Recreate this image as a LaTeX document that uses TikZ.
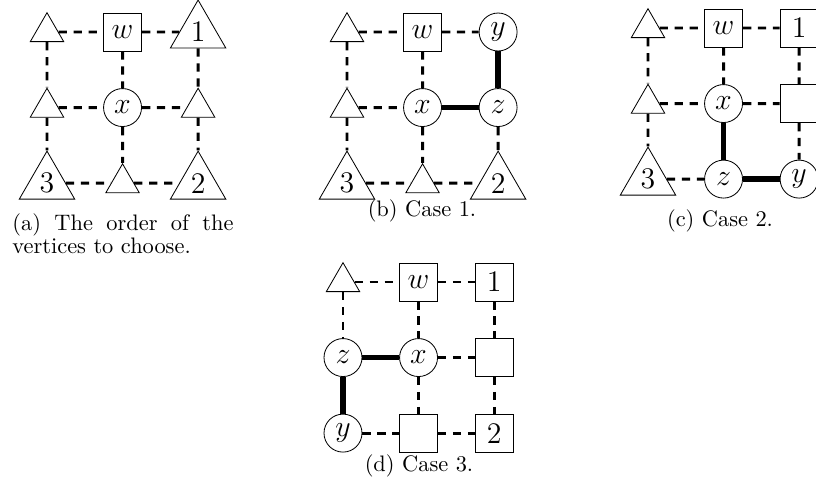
\documentclass[tikz,border=0pt]{standalone}
\usepackage{tikz}
\usetikzlibrary{positioning,shapes.geometric}
\newcommand{\vfont}{\Large}

\begin{document}
\begin{tikzpicture}[
  x=0.4818pt, y=-0.4818pt,
  node distance=36.4pt, on grid,
  tri/.style={draw, regular polygon, regular polygon sides=3,
    minimum size=18.6pt, inner sep=0pt},
  bigtri/.style={tri, minimum size=30.8pt, font=\vfont},
  sq/.style={draw, minimum size=18.3pt, inner sep=0pt, font=\vfont},
  vtx/.style={draw, circle, minimum size=18.3pt, inner sep=0pt, font=\vfont},
  dsh/.style={line width=1.4pt, dash pattern=on 4pt off 3.2pt},
  sel/.style={line width=2.6pt},
  captext/.style={font=\fontsize{10.8}{10.1}\selectfont, inner sep=0pt}
]
\useasboundingbox (0,0) rectangle (816,492);

% (a) the order of the vertices
\node[tri] (a1) at (47,32) {};
\node[sq, right=of a1] (a2) {$w$};
\node[bigtri, right=of a2] (a3) {1};
\node[tri, below=of a1] (a4) {};
\node[vtx, below=of a2] (a5) {$x$};
\node[tri, below=of a3] (a6) {};
\node[bigtri, below=of a4] (a7) {3};
\node[tri, below=of a5] (a8) {};
\node[bigtri, below=of a6] (a9) {2};
\draw[dsh] (a1) -- (a2) (a2) -- (a3) (a4) -- (a5) (a5) -- (a6)
  (a7) -- (a8) (a8) -- (a9);
\draw[dsh] (a1) -- (a4) (a4) -- (a7) (a2) -- (a5) (a5) -- (a8)
  (a3) -- (a6) (a6) -- (a9);
\node[captext, text width=106.5pt, align=justify, anchor=north west] (capa)
  at (12,213) {(a) The order of the \mbox{vertices} to choose.};

% (b) case 1
\node[tri] (b1) at (347,32) {};
\node[sq, right=of b1] (b2) {$w$};
\node[vtx, right=of b2] (b3) {$y$};
\node[tri, below=of b1] (b4) {};
\node[vtx, below=of b2] (b5) {$x$};
\node[vtx, below=of b3] (b6) {$z$};
\node[bigtri, below=of b4] (b7) {3};
\node[tri, below=of b5] (b8) {};
\node[bigtri, below=of b6] (b9) {2};
\draw[dsh] (b1) -- (b2) (b2) -- (b3) (b4) -- (b5)
  (b7) -- (b8) (b8) -- (b9);
\draw[dsh] (b1) -- (b4) (b4) -- (b7) (b2) -- (b5) (b5) -- (b8) (b6) -- (b9);
\draw[sel] (b5) -- (b6) (b3) -- (b6);
\node[captext] (capb) at (422,211) {(b) Case 1.};

% (c) case 2
\node[tri] (c1) at (648,28) {};
\node[sq, right=of c1] (c2) {$w$};
\node[sq, right=of c2] (c3) {1};
\node[tri, below=of c1] (c4) {};
\node[vtx, below=of c2] (c5) {$x$};
\node[sq, below=of c3] (c6) {};
\node[bigtri, below=of c4] (c7) {3};
\node[vtx, below=of c5] (c8) {$z$};
\node[vtx, below=of c6] (c9) {$y$};
\draw[dsh] (c1) -- (c2) (c2) -- (c3) (c4) -- (c5) (c5) -- (c6) (c7) -- (c8);
\draw[dsh] (c1) -- (c4) (c4) -- (c7) (c2) -- (c5) (c3) -- (c6) (c6) -- (c9);
\draw[sel] (c5) -- (c8) (c8) -- (c9);
\node[captext] (capc) at (720,221) {(c) Case 2.};

% (d) case 3
\node[tri] (d1) at (343,282) {};
\node[sq, right=of d1] (d2) {$w$};
\node[sq, right=of d2] (d3) {1};
\node[vtx, below=of d1] (d4) {$z$};
\node[vtx, below=of d2] (d5) {$x$};
\node[sq, below=of d3] (d6) {};
\node[vtx, below=of d4] (d7) {$y$};
\node[sq, below=of d5] (d8) {};
\node[sq, below=of d6] (d9) {2};
\draw[dsh] (d1) -- (d2) (d2) -- (d3) (d5) -- (d6) (d7) -- (d8) (d8) -- (d9);
\draw[dsh] (d1) -- (d4) (d2) -- (d5) (d5) -- (d8) (d3) -- (d6) (d6) -- (d9);
\draw[sel] (d4) -- (d5) (d4) -- (d7);
\node[captext] (capd) at (419,466) {(d) Case 3.};
\end{tikzpicture}
\end{document}
